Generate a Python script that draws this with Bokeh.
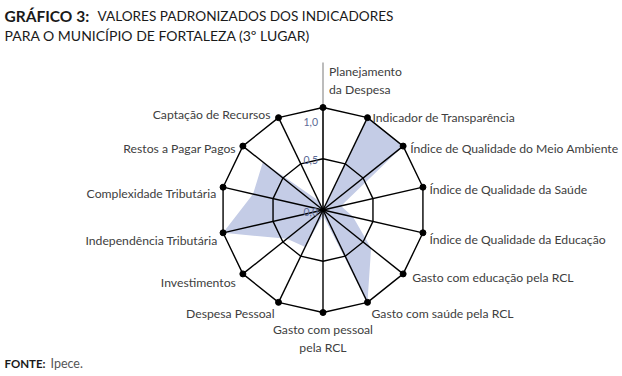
import numpy as np
from bokeh.plotting import figure
from bokeh.models import Range1d, Label, ColumnDataSource
from bokeh.core.properties import value
from bokeh.embed import file_html
from bokeh.resources import INLINE

# ---- data ----
categories = [
    "Planejamento\nda Despesa",
    "Indicador de Transparência",
    "Índice de Qualidade do Meio Ambiente",
    "Índice de Qualidade da Saúde",
    "Índice de Qualidade da Educação",
    "Gasto com educação pela RCL",
    "Gasto com saúde pela RCL",
    "Gasto com pessoal\npela RCL",
    "Despesa Pessoal",
    "Investimentos",
    "Independência Tributária",
    "Complexidade Tributária",
    "Restos a Pagar Pagos",
    "Captação de Recursos",
]
values = [0.0, 1.0, 1.0, 0.18, 0.30, 0.60, 1.0, 0.05, 0.40, 0.45, 1.0, 0.70, 0.75, 0.10]
ticks = [0.0, 0.5, 1.0]
tick_labels = ["0,0", "0,5", "1,0"]

# ---- label styling (alignment / pixel offsets) ----
label_align = ["left", "left", "left", "left", "left", "left", "left", "center",
               "right", "right", "right", "right", "right", "right"]
label_dx = [6, 5, 7, 6.5, 6.5, 9, 4, 0, -4, -7, -5.5, -6.5, -7, -8]
label_dy = [-27, 0, 2, 2, 6.5, 3.5, 11, 26, 11, 8.5, 7.5, 6, 2.5, -3]
tick_dy = [1.5, 1, 14]

FONT = "Lato"
W, H = 622, 376
cx, cy, R = 322.5, 209.5, 102.5

n = len(categories)
ang = np.arange(n) * 2 * np.pi / n
sx, sy = np.sin(ang), np.cos(ang)

p = figure(width=W, height=H, output_backend="svg", toolbar_location=None,
           x_range=Range1d(-cx / R, (W - cx) / R),
           y_range=Range1d(-(H - cy) / R, cy / R),
           min_border=0, border_fill_color="white", background_fill_color="white")
p.axis.visible = False
p.grid.visible = False
p.outline_line_color = None

# filled data polygon
vals = np.array(values)
p.patch(list(vals * sx), list(vals * sy), fill_color="#c4cce6", line_color=None)

# value axis line (gray, extends above)
p.line([0, 0], [0, 1.44], line_color="#a6a6a6", line_width=1.5)

# spokes
for i in range(n):
    p.line([0, sx[i]], [0, sy[i]], line_color="black", line_width=1.4)

# rings
for t in ticks[1:]:
    xs = list(t * sx) + [t * sx[0]]
    ys = list(t * sy) + [t * sy[0]]
    p.line(xs, ys, line_color="black", line_width=1.4)

# markers on the outer ring
p.scatter(list(sx), list(sy), size=6, color="black")

# tick labels
tsrc = ColumnDataSource(dict(x=[0.0] * len(ticks), y=ticks, t=tick_labels,
                             dy=tick_dy))
p.text("x", "y", text="t", source=tsrc, x_offset=-5, y_offset="dy",
       text_align="right", text_baseline="middle", text_font_size="10.5px",
       text_color="#5b6a96", text_font=value(FONT))

# category labels
lsrc = ColumnDataSource(dict(x=list(sx), y=list(sy), t=categories,
                             al=label_align, dx=label_dx, dy=label_dy))
p.text("x", "y", text="t", source=lsrc, x_offset="dx", y_offset="dy",
       text_align="al", text_baseline="middle", text_font_size="12.2px",
       text_color="#404040", text_font=value(FONT), text_line_height=1.2)

# title and source
def lab(txt, x, y, size, bold=False, color="#1a1a1a"):
    p.add_layout(Label(x=x, y=H - y, x_units="screen", y_units="screen", text=txt,
                       text_font=FONT, text_font_size=size,
                       text_font_style="bold" if bold else "normal",
                       text_color=color, text_baseline="middle"))

lab("GRÁFICO 3:", 4, 15, "15.5px", bold=True)
lab("VALORES PADRONIZADOS DOS INDICADORES", 97, 15, "13.6px")
lab("PARA O MUNICÍPIO DE FORTALEZA (3º LUGAR)", 4, 35, "14px")
lab("FONTE:", 4, 363, "11.5px", bold=True)
lab("Ipece.", 50, 363, "12.5px", color="#555555")

open("out.html", "w").write(file_html(p, INLINE))
